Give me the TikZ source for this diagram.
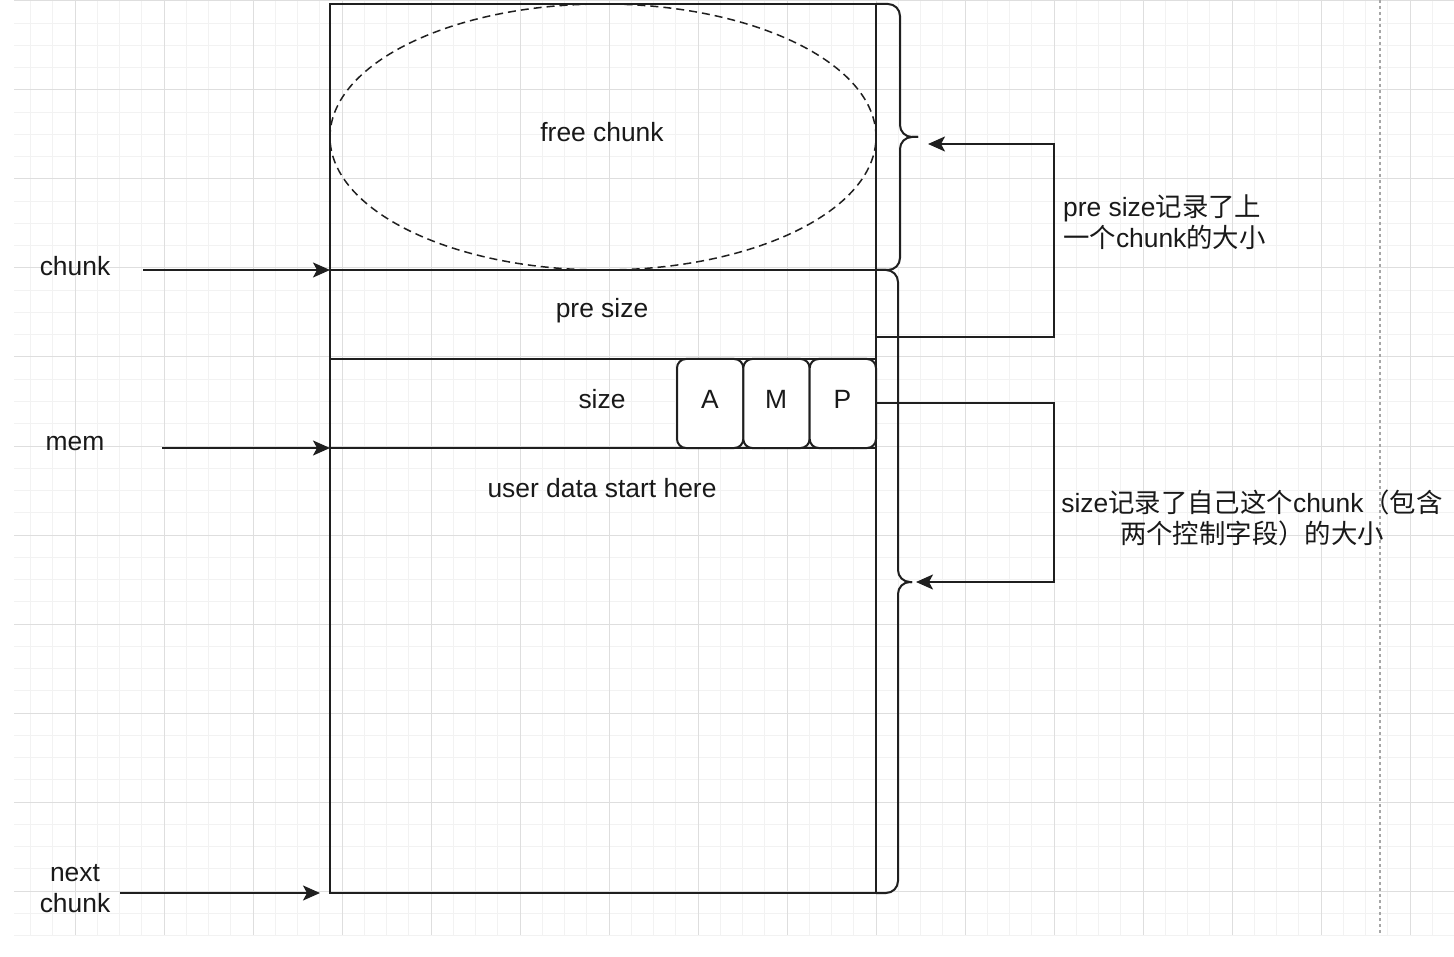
\documentclass[tikz,border=0pt]{standalone}
\usepackage{fontspec}
\setmainfont{Liberation Sans}
\newfontfamily\cjk{Noto Sans CJK SC}
\usetikzlibrary{shapes.geometric,arrows.meta}
\begin{document}
\begin{tikzpicture}[x=1pt,y=-1pt,
  font=\fontsize{26.4}{31}\selectfont,
  minorgrid/.style={draw=black!5, line width=1pt},
  majorgrid/.style={draw=black!13, line width=1pt},
  line/.style={line width=2pt, draw=black!88},
  arr/.style={line, -{Stealth[length=17pt,width=15pt,inset=4pt]}},
  cell/.style={line, minimum width=546pt, anchor=north west, inner sep=0pt, outer sep=0pt},
  flag/.style={line, fill=white, rounded corners=9pt, minimum width=66.3pt, minimum height=89pt, inner sep=0pt, outer sep=0pt, anchor=north west},
  brace/.style={line, rounded corners=12pt},
  lbl/.style={inner sep=0pt, align=center, text=black!90},
  ]
\useasboundingbox (0,0) rectangle (1454,957);
\fill[white] (0,0) rectangle (1454,957);
% grid
\begin{scope}
  \clip (14,0) rectangle (1454,935);
  \foreach \i in {0,...,65} {
    \draw[minorgrid] ({8.25+22.25*\i},0) -- ({8.25+22.25*\i},935);
  }
  \foreach \j in {0,...,42} {
    \draw[minorgrid] (14,{1+22.25*\j}) -- (1454,{1+22.25*\j});
  }
  \foreach \i in {0,...,16} {
    \draw[majorgrid] ({75+89*\i},0) -- ({75+89*\i},935);
  }
  \foreach \j in {0,...,10} {
    \draw[majorgrid] (14,{1+89*\j}) -- (1454,{1+89*\j});
  }
\end{scope}
\draw[black!35, line width=1.2pt, dash pattern=on 3pt off 3pt] (1380,0) -- (1380,935);

% main chunk cells
\node[cell, minimum height=266pt] (free) at (330,4) {};
\node[cell, minimum height=89pt] (pre) at (330,270) {};
\node[cell, minimum height=89pt] (size) at (330,359) {};
\node[cell, minimum height=445pt] (user) at (330,448) {};

\node[ellipse, draw=black!88, line width=1.5pt, dash pattern=on 8pt off 5pt,
      minimum width=546pt, minimum height=266pt, inner sep=0pt, outer sep=0pt] (ell) at (603,137) {};
\node[lbl] (tfree) at (602,132) {free chunk};
\node[lbl] (tpre) at (602,311) {pre size};
\node[lbl] (tsize) at (602,399) {size};
\node[lbl] (tuser) at (602,488) {user data start here};

% A M P flags
\node[flag] (A) at (677,359) {};
\node[flag] (M) at (743.3,359) {};
\node[flag] (P) at (809.7,359) {};
\node[lbl] (tA) at (710,399) {A};
\node[lbl] (tM) at (776,399) {M};
\node[lbl] (tP) at (842.5,399) {P};

% braces
\coordinate (b1) at (918,137);
\coordinate (b2) at (912,582);
\draw[brace] (free.north east) -- (900,4) -- (900,137) -- (b1);
\draw[brace] (b1) -- (900,137) -- (900,270) -- (free.south east);
\draw[brace] (free.south east) -- (898,270) -- (898,582) -- (b2);
\draw[brace] (b2) -- (898,582) -- (898,893) -- (user.south east);

% right arrows
\coordinate (a1s) at (876,337);
\coordinate (a1e) at (928,144);
\coordinate (a2e) at (916,582);
\draw[arr] (a1s) -- (1054,337) |- (a1e);
\draw[arr] (P.east) -- (1054,403.5) |- (a2e);

\node[lbl, anchor=west, align=left] (n1) at (1063,222)
  {pre size{\cjk 记录了上}\\{\cjk 一个}chunk{\cjk 的大小}};
\node[lbl] (n2) at (1252,518)
  {size{\cjk 记录了自己这个}chunk{\cjk （包含}\\{\cjk 两个控制字段）的大小}};

% left labels
\node[lbl] (lchunk) at (75,266) {chunk};
\node[lbl] (lmem) at (75,444) {mem};
\node[lbl] (lnext) at (75,889) {next\\chunk};
\coordinate (cs) at (143,270);
\coordinate (ms) at (162,448);
\coordinate (ns) at (120,893);
\coordinate (ne) at (320,893);
\draw[arr] (cs) -- (free.south west);
\draw[arr] (ms) -- (user.north west);
\draw[arr] (ns) -- (ne);
\end{tikzpicture}
\end{document}
